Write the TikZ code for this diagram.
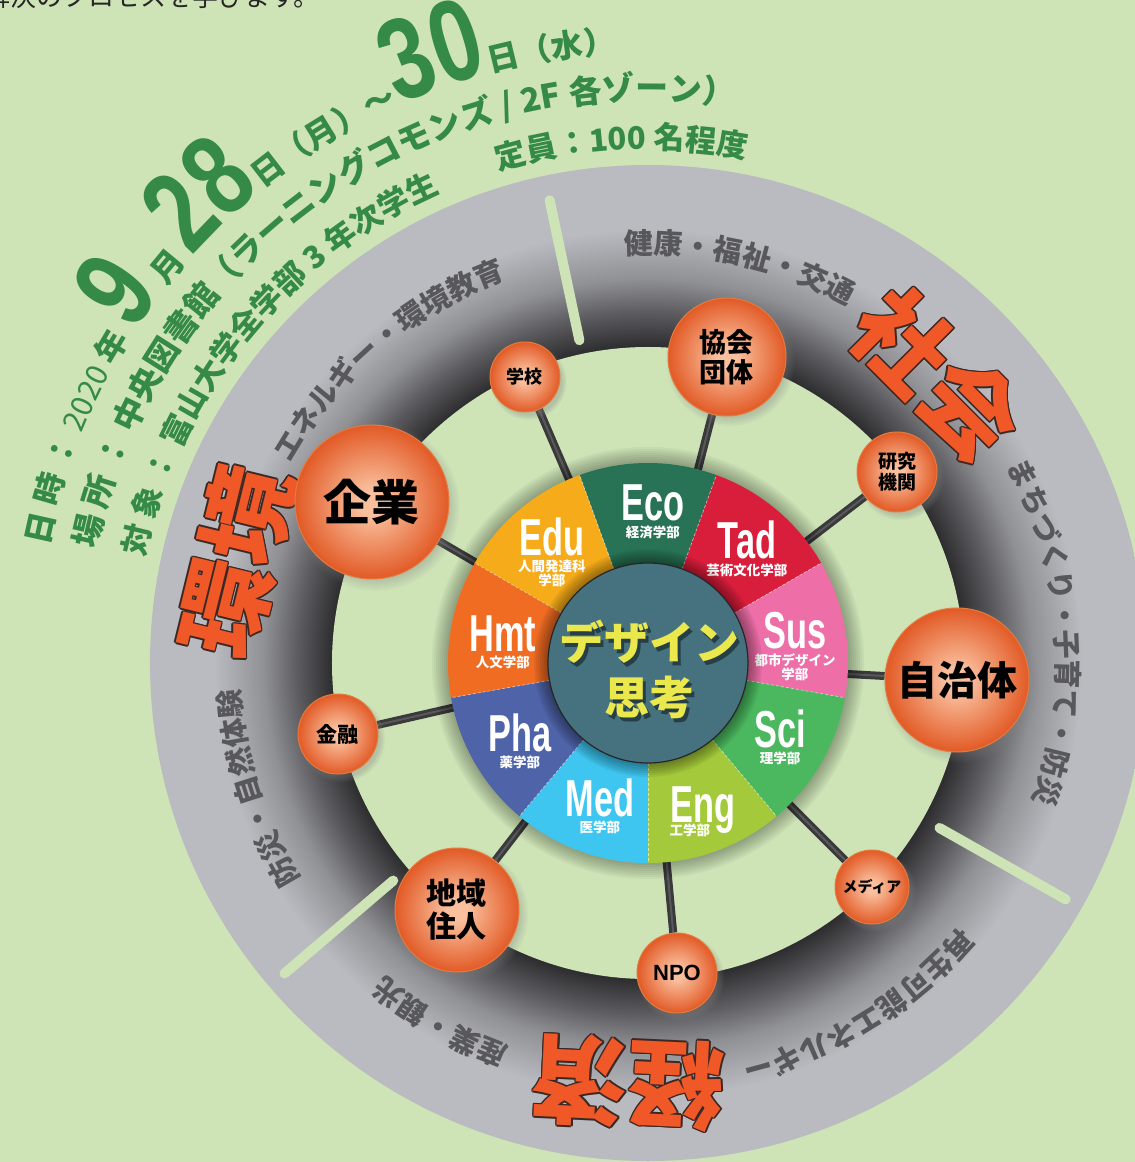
\documentclass[tikz,border=0pt]{standalone}
\usepackage{fontspec}
\usetikzlibrary{positioning,decorations.text,shadows}

\newfontfamily\jp{Noto Sans CJK JP}
\newfontfamily\cond[FakeStretch=0.66]{Liberation Sans}
\newfontfamily\numf[FakeStretch=0.76]{Liberation Sans}
\newfontfamily\lat{Liberation Sans}

\definecolor{bggreen}{RGB}{206,228,183}
\definecolor{hdrgreen}{RGB}{52,138,70}
\definecolor{ringgray}{RGB}{186,187,192}
\definecolor{ringmid}{RGB}{92,92,96}
\definecolor{ringdark}{RGB}{46,46,48}
\definecolor{ringtext}{RGB}{88,88,92}
\definecolor{orbin}{RGB}{250,192,158}
\definecolor{orbout}{RGB}{226,90,38}
\definecolor{orbline}{RGB}{226,124,64}
\definecolor{catfill}{RGB}{240,88,40}
\definecolor{catline}{RGB}{60,40,35}
\definecolor{hubteal}{RGB}{70,114,128}
\definecolor{hubtext}{RGB}{234,232,76}
\definecolor{spokecol}{RGB}{58,58,60}
\definecolor{segeco}{RGB}{40,115,85}
\definecolor{segtad}{RGB}{217,30,60}
\definecolor{segsus}{RGB}{238,110,168}
\definecolor{segsci}{RGB}{75,184,95}
\definecolor{segeng}{RGB}{164,201,58}
\definecolor{segmed}{RGB}{62,197,240}
\definecolor{segpha}{RGB}{78,99,168}
\definecolor{seghmt}{RGB}{240,108,34}
\definecolor{segedu}{RGB}{246,172,26}

% 25bp = radius of the shaded circle
\pgfdeclareradialshading{ringshade}{\pgfpointorigin}{color(0bp)=(ringdark); color(15.9bp)=(ringdark); color(17.6bp)=(ringmid); color(19.3bp)=(ringgray!55!ringmid); color(21.8bp)=(ringgray); color(50bp)=(ringgray)}
\pgfdeclareradialshading{orb}{\pgfpointorigin}{color(0bp)=(orbin); color(4bp)=(orbin); color(25bp)=(orbout); color(50bp)=(orbout)}

\pgfdeclarelayer{bg}
\pgfsetlayers{bg,main}

\newcommand\hdrfont{\jp\bfseries\fontsize{32}{32}\selectfont}
\newcommand\hdrthin{\jp\fontsize{30}{30}\selectfont}
\newcommand\hdrbig{\numf\bfseries\fontsize{116}{116}\selectfont}
\newcommand\hdrmid{\jp\bfseries\fontsize{33}{33}\selectfont}
\newcommand\hdrsm{\jp\bfseries\fontsize{31}{31}\selectfont}
\newcommand\ringfont{\jp\bfseries\fontsize{29}{29}\selectfont}

% big orange word with a dark rim: name, angle, radius, text
\newcommand\catlabel[4]{%
  \foreach \dx/\dy in {1.6/0,-1.6/0,0/1.6,0/-1.6,1.1/1.1,1.1/-1.1,-1.1/1.1,-1.1/-1.1}
    \node[catlbl, text=catline, rotate=#2-90] at ([shift={(\dx pt,\dy pt)}]#2:#3) {#4};
  \node[catlbl, rotate=#2-90] (#1) at (#2:#3) {#4};}

% gray words round the ring: middle angle, text
\newcommand\ringwords[2]{%
  \path[decorate, decoration={text along path, text align=center, text color=ringtext,
    text={|\ringfont|#2}}] (#1+50:409) arc[start angle=#1+50, end angle=#1-50, radius=409];}

\begin{document}
\begin{tikzpicture}[x=1pt, y=1pt,
  orb/.style={circle, shading=orb, draw=orbline, line width=1pt, font=\jp\bfseries,
    align=center, inner sep=0pt, text=black,
    circular drop shadow={shadow xshift=3pt, shadow yshift=-4pt, opacity=.35}},
  catlbl/.style={font=\jp\bfseries\fontsize{96}{96}\selectfont, text=catfill, inner sep=0pt},
  fac/.style={font=\cond\bfseries\fontsize{52}{52}\selectfont, text=white, inner sep=0pt,
    text height=38pt, text depth=0pt},
  facsub/.style={font=\jp\bfseries\fontsize{13.5}{14}\selectfont, text=white, align=center, inner sep=0pt},
  hubtxt/.style={font=\jp\bfseries\fontsize{45}{45}\selectfont, text=hubtext, inner sep=0pt},
  spoke/.style={draw=spokecol, line width=8pt, postaction={draw=gray!70!black, line width=2pt}},
  sep/.style={draw=bggreen, line width=10pt, line cap=round},
  segline/.style={draw=white, opacity=.55, line width=.7pt, dash pattern=on 3pt off 2pt}]

\useasboundingbox (-648,-499) rectangle (487,663);

\begin{pgfonlayer}{bg}
  \fill[bggreen] (-648,-499) rectangle (487,663);
  \node[anchor=base east, font=\jp\fontsize{26}{26}\selectfont, text=black!85, inner sep=0pt] (intro)
    at (-328,656) {解決のプロセスを学びます。};

  % outer ring
  \shade[shading=ringshade] (0,0) circle (498);
  \fill[bggreen] (0,0) circle (316);
  \draw[sep] (102:330) -- (102:473);
  \draw[sep] (-29.5:335) -- (-29.5:480);
  \draw[sep] (220.5:335) -- (220.5:478);

  \catlabel{society}{44.9}{408}{社会}
  \catlabel{environ}{166.2}{424}{環境}
  \catlabel{economy}{267.3}{420}{経済}

  \ringwords{130.5}{エネルギー・環境教育}
  \ringwords{77}{健康・福祉・交通}
  \ringwords{4.5}{まちづくり・子育て・防災}
  \ringwords{-58.5}{再生可能エネルギー}
  \ringwords{240}{産業・観光}
  \ringwords{197.75}{防災・自然体験}

  % header
  \path[decorate, decoration={text along path, text align=left, text color=hdrgreen,
    text={|\hdrfont|日 時 ： |\hdrthin|2020|\hdrfont| 年 |\hdrbig|9|\hdrfont| 月 |\hdrbig|28|\hdrfont|日（月）～|\hdrbig|30|\hdrfont|日（水）}}]
    (169:611) arc[start angle=169, end angle=60, radius=611];
  \path[decorate, decoration={text along path, text align=left, text color=hdrgreen,
    text={|\hdrmid|場 所 ： 中央図書館（ラーニングコモンズ / 2F 各ゾーン）}}]
    (168.4:563) arc[start angle=168.4, end angle=60, radius=563];
  \path[decorate, decoration={text along path, text align=left, text color=hdrgreen,
    text={|\hdrsm|対 象 ： 富山大学全学部 3 年次学生　　定員：100 名程度}}]
    (168.2:514) arc[start angle=168.2, end angle=60, radius=514];
\end{pgfonlayer}

% wheel
\foreach \k in {1,...,8}
  \fill[black, opacity=.04] (0,0) circle (200+2*\k);
\foreach \col [count=\i from 0] in {segeco,segtad,segsus,segsci,segeng,segmed,segpha,seghmt,segedu} {
  \pgfmathsetmacro\a{110-40*\i}
  \fill[\col] (0,0) -- (\a:200) arc[start angle=\a, end angle=\a-40, radius=200] -- cycle;
}
\foreach \a in {110,70,...,-210}
  \draw[segline] (\a:100) -- (\a:200);

\node[fac] (eco) at (5,161) {Eco};
\node[facsub, below=4pt of eco] {経済学部};
\node[fac] (tad) at (99,123) {Tad};
\node[facsub, below=4pt of tad] {芸術文化学部};
\node[fac] (sus) at (147,33) {Sus};
\node[facsub, below=4pt of sus] {都市デザイン\\学部};
\node[fac] (sci) at (132,-65) {Sci};
\node[facsub, below=4pt of sci] {理学部};
\node[fac] (eng) at (55,-140) {Eng};
\node[facsub, below=1pt of eng, xshift=-13pt] {工学部};
\node[fac] (med) at (-48,-134) {Med};
\node[facsub, below=4pt of med] {医学部};
\node[fac] (pha) at (-128,-69) {Pha};
\node[facsub, below=4pt of pha] {薬学部};
\node[fac] (hmt) at (-145,31) {Hmt};
\node[facsub, below=4pt of hmt] {人文学部};
\node[fac] (edu) at (-96,126) {Edu};
\node[facsub, below=4pt of edu] {人間発達科\\学部};

% hub
\foreach \k in {1,...,7}
  \fill[black, opacity=.06] (0,0) circle (100+2*\k);
\node[circle, fill=hubteal, draw=black!85, line width=1.2pt, minimum size=200, inner sep=0pt] (hub) at (0,0) {};
\node[hubtxt, text=black, opacity=.45] at (5,17) {デザイン};
\node[hubtxt] (design) at (2,21) {デザイン};
\node[hubtxt, text=black, opacity=.45] at (5,-38) {思考};
\node[hubtxt] (think) at (2,-34) {思考};

% partners
\node[orb, minimum size=70, font=\jp\bfseries\fontsize{18}{19}\selectfont] (school) at (-123,286) {学校};
\node[orb, minimum size=118, font=\jp\bfseries\fontsize{27}{30}\selectfont] (assoc) at (79,306) {協会\\団体};
\node[orb, minimum size=80, font=\jp\bfseries\fontsize{19}{21}\selectfont] (lab) at (249,191) {研究\\機関};
\node[orb, minimum size=144, font=\jp\bfseries\fontsize{40}{40}\selectfont] (city) at (309,-17) {自治体};
\node[orb, minimum size=74, font=\jp\bfseries\fontsize{15}{15}\selectfont] (media) at (224,-224) {メディア};
\node[orb, minimum size=80, font=\lat\bfseries\fontsize{22}{22}\selectfont] (npo) at (29,-310) {NPO};
\node[orb, minimum size=124, font=\jp\bfseries\fontsize{30}{33}\selectfont] (locals) at (-191,-247) {地域\\住人};
\node[orb, minimum size=80, font=\jp\bfseries\fontsize{21}{21}\selectfont] (finance) at (-310,-71) {金融};
\node[orb, minimum size=154, font=\jp\bfseries\fontsize{48}{48}\selectfont] (firm) at (-276,161) {企業};

\begin{pgfonlayer}{bg}
  \foreach \p in {school,assoc,lab,city,media,npo,locals,finance,firm}
    \draw[spoke] (hub) -- (\p);
\end{pgfonlayer}

\end{tikzpicture}
\end{document}
